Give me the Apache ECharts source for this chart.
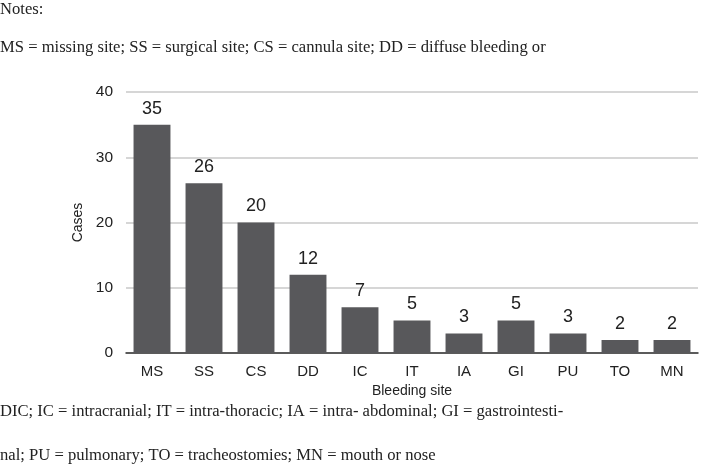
<!DOCTYPE html>
<html>
<head>
<meta charset="utf-8">
<script src="https://cdn.jsdelivr.net/npm/echarts@6/dist/echarts.min.js"></script>
<style>
  html, body { margin: 0; padding: 0; background: #fff; }
  #main { width: 705px; height: 475px; }
</style>
</head>
<body>
<div id="main"></div>
<script>
var myChart = echarts.init(document.getElementById('main'));

// bleeding sites
var categories = ['MS', 'SS', 'CS', 'DD', 'IC', 'IT', 'IA', 'GI', 'PU', 'TO', 'MN'];

// number of cases
var cases = [35, 26, 20, 12, 7, 5, 3, 5, 3, 2, 2];

// y axis ticks
var yTicks = [0, 10, 20, 30, 40];

// notes around the figure
var noteLines = [
  'Notes:',
  'MS = missing site; SS = surgical site; CS = cannula site; DD = diffuse bleeding or',
  'DIC; IC = intracranial; IT = intra-thoracic; IA = intra- abdominal; GI = gastrointesti-',
  'nal; PU = pulmonary; TO = tracheostomies; MN = mouth or nose'
];
var noteY = [10, 48, 412, 456];

var sans = 'Liberation Sans, Arial, sans-serif';
var serif = 'Liberation Serif, Times New Roman, serif';

var graphics = [];
for (var i = 0; i < noteLines.length; i++) {
  graphics.push({
    type: 'text',
    left: 0,
    top: noteY[i] - 9,
    style: {
      text: noteLines[i],
      font: '16.6px ' + serif,
      fill: '#222'
    }
  });
}

var option = {
  animation: false,
  graphic: graphics,
  grid: {
    left: 126,
    right: 7,
    top: 92,
    bottom: 122
  },
  // x轴
  xAxis: {
    type: 'category',
    data: categories,
    name: 'Bleeding site',
    nameLocation: 'middle',
    nameGap: 31,
    nameTextStyle: { fontFamily: sans, fontSize: 14, color: '#222' },
    axisLine: { lineStyle: { color: '#333', width: 1.5 } },
    axisTick: { show: false },
    axisLabel: { fontFamily: sans, fontSize: 15, color: '#222', margin: 11 }
  },
  // y轴
  yAxis: {
    type: 'value',
    min: yTicks[0],
    max: yTicks[yTicks.length - 1],
    interval: yTicks[1] - yTicks[0],
    name: 'Cases',
    nameLocation: 'middle',
    nameGap: 37,
    nameRotate: 90,
    nameTextStyle: { fontFamily: sans, fontSize: 14, color: '#222' },
    axisLine: { show: false },
    axisTick: { show: false },
    axisLabel: { fontFamily: sans, fontSize: 15.5, color: '#222', margin: 13 },
    splitLine: { lineStyle: { color: '#c8c8c8', width: 1.5 } }
  },
  series: [{
    type: 'bar',
    data: cases,
    barCategoryGap: '29%',
    itemStyle: { color: '#58585b' },
    label: {
      show: true,
      position: 'top',
      distance: 7,
      fontFamily: sans,
      fontSize: 18,
      color: '#222'
    }
  }]
};

myChart.setOption(option);
</script>
</body>
</html>
